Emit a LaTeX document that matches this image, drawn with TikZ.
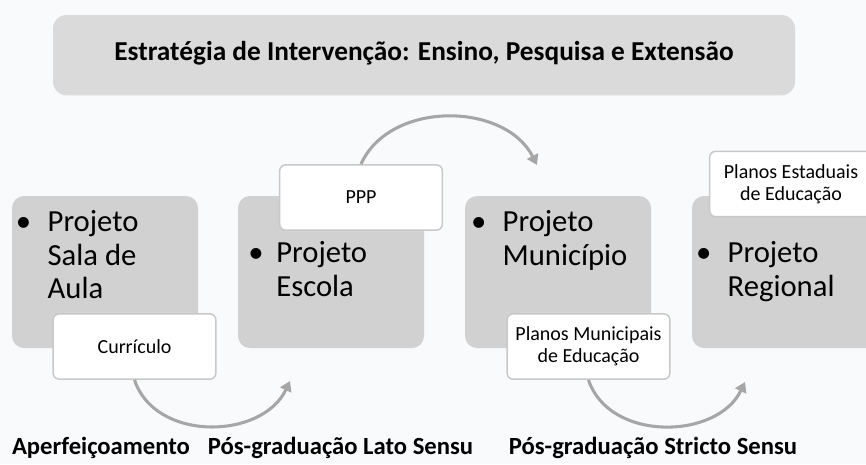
\documentclass[tikz,border=0pt]{standalone}
\usepackage{fontspec}
\setmainfont{Carlito}
\usetikzlibrary{arrows.meta,shadows,calc}
\definecolor{fundo}{HTML}{F9FAFC}
\definecolor{caixa}{HTML}{D1D1D1}
\definecolor{cabeca}{HTML}{DADADA}
\definecolor{borda}{HTML}{C8C8C8}
\definecolor{cinzaseta}{HTML}{A6A6A6}
\begin{document}
\begin{tikzpicture}[x=0.75pt,y=-0.75pt]
        \tikzstyle{etapa} = [fill=caixa,rounded corners=9pt,minimum width=139.5pt,minimum height=114pt]
        \tikzstyle{nota} = [fill=white,draw=borda,line width=1.1pt,rounded corners=4.5pt,minimum width=122pt,minimum height=49pt,align=center,font=\fontsize{15}{16.5}\selectfont]
        \tikzstyle{topico} = [anchor=base west,inner sep=0pt,font=\fontsize{23}{25}\selectfont]
        \tikzstyle{nivel} = [anchor=base,inner sep=0pt,font=\fontsize{18.5}{22}\selectfont\bfseries]
        \tikzstyle{seta} = [draw=cinzaseta,line width=2.3pt,-{Triangle[length=7.5pt,width=9pt]}]

        \path[use as bounding box,fill=fundo] (0,0) rectangle (866,464);
        \clip (0,0) rectangle (866,464);

        % titulo
        \node[fill=cabeca,rounded corners=10pt,minimum width=556.5pt,minimum height=57.75pt,
              drop shadow={shadow xshift=0pt,shadow yshift=-2.5pt,opacity=0.25},
              font=\fontsize{20.5}{24}\selectfont\bfseries] (titulo) at (424,53.5)
              {Estratégia de Intervenção: Ensino, Pesquisa e Extensão};

        % etapas
        \node[etapa] (sala) at (105,272){};
        \node[etapa] (escola) at (331,272){};
        \node[etapa] (municipio) at (558,272){};
        \node[etapa] (regional) at (785,272){};

        \node[topico] (tsala) at ($(sala.north west)+(9,36)$)
            {\begin{tabular}[t]{@{}p{20pt}@{}l@{}}\hspace*{-3.75pt}\textbullet & Projeto\\ & Sala de\\ & Aula\end{tabular}};
        \node[topico] (tescola) at ($(escola.north west)+(13,67)$)
            {\begin{tabular}[t]{@{}p{19pt}@{}l@{}}\hspace*{-2pt}\textbullet & Projeto\\ & Escola\end{tabular}};
        \node[topico] (tmunicipio) at ($(municipio.north west)+(11,36)$)
            {\begin{tabular}[t]{@{}p{20pt}@{}l@{}}\hspace*{-3.75pt}\textbullet & Projeto\\ & Município\end{tabular}};
        \node[topico] (tregional) at ($(regional.north west)+(9,67)$)
            {\begin{tabular}[t]{@{}p{20pt}@{}l@{}}\hspace*{-3.75pt}\textbullet & Projeto\\ & Regional\end{tabular}};

        % notas
        \node[nota] (curriculo) at (134.5,346.5) {Currículo};
        \node[nota] (ppp) at (361,197.5) {PPP};
        \node[nota] (pme) at (588.5,346.5) {Planos Municipais\\de Educação};
        \node[nota] (pee) at (791,184) {Planos Estaduais\\de Educação};

        % setas
        \coordinate (fimA) at (290,381);
        \coordinate (fimB) at (537,165);
        \coordinate (fimC) at (745,382);

        \draw[seta] (curriculo.south) .. controls (155,442) and (262,440) .. (fimA);
        \draw[seta] (ppp.north) .. controls (390,100) and (505,102) .. (fimB);
        \draw[seta] (pme.south) .. controls (609,442) and (717,440) .. (fimC);

        % niveis
        \node[nivel] (aperf) at (101,454) {Aperfeiçoamento};
        \node[nivel] (lato) at (340.5,454) {Pós-graduação Lato Sensu};
        \node[nivel] (stricto) at (653,454) {Pós-graduação Stricto Sensu};
\end{tikzpicture}
\end{document}
